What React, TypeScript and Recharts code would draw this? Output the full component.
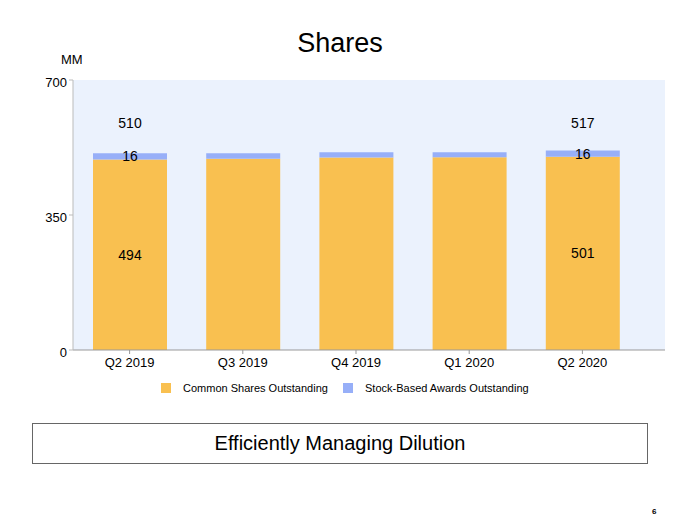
import { BarChart, Bar, XAxis, YAxis, CartesianGrid, LabelList } from "recharts";

const QUARTERS = ["Q2 2019", "Q3 2019", "Q4 2019", "Q1 2020", "Q2 2020"];
const COMMON_SHARES = [494, 496, 499, 500, 501];
const STOCK_AWARDS = [16, 14, 14, 13, 16];
const Y_TICKS = [0, 350, 700];
const LABELED = [0, 4];

const ORANGE = "#F9C050";
const BLUE = "#97AFF8";
const PLOT_BG = "#EBF2FD";
const FONT = "Liberation Sans, Arial, sans-serif";
const PLOT_TOP = 80;

const data = QUARTERS.map((q, i) => ({
  quarter: q,
  common: COMMON_SHARES[i],
  awards: STOCK_AWARDS[i],
  total: COMMON_SHARES[i] + STOCK_AWARDS[i],
}));

// only first and last quarter carry value labels
function centerLabel(props: any) {
  const { x, y, width, height, value, index } = props;
  if (!LABELED.includes(index)) return null;
  return (
    <text
      x={x + width / 2}
      y={y + height / 2}
      textAnchor="middle"
      dominantBaseline="central"
      fontSize={14}
      fontFamily={FONT}
      fill="#000"
    >
      {value}
    </text>
  );
}

// totals sit on one line near the top of the plot
function totalLabel(props: any) {
  const { x, width, value, index } = props;
  if (!LABELED.includes(index)) return null;
  return (
    <text
      x={x + width / 2}
      y={PLOT_TOP + 43}
      textAnchor="middle"
      dominantBaseline="central"
      fontSize={14}
      fontFamily={FONT}
      fill="#000"
    >
      {value}
    </text>
  );
}

const legendItems = [
  { name: "Common Shares Outstanding", color: ORANGE, left: 161 },
  { name: "Stock-Based Awards Outstanding", color: BLUE, left: 343 },
];

export default function App() {
  return (
    <div
      style={{
        position: "absolute",
        top: 0,
        left: 0,
        width: 680,
        height: 519,
        background: "#fff",
        fontFamily: FONT,
        overflow: "hidden",
      }}
    >
      <div
        style={{
          position: "absolute",
          top: 26,
          left: 0,
          width: 680,
          textAlign: "center",
          fontSize: 27,
          lineHeight: "34px",
        }}
      >
        Shares
      </div>
      <div style={{ position: "absolute", top: 52, left: 61, fontSize: 13 }}>MM</div>

      <div style={{ position: "absolute", top: 0, left: 0 }}>
        <BarChart
          width={680}
          height={420}
          data={data}
          margin={{ top: PLOT_TOP, right: 15, left: 13, bottom: 40 }}
        >
          <CartesianGrid fill={PLOT_BG} stroke="none" horizontal={false} vertical={false} />
          <XAxis
            dataKey="quarter"
            height={30}
            padding={{ left: 0, right: 26 }}
            axisLine={{ stroke: "#999" }}
            tickLine={{ stroke: "#999" }}
            tickSize={4}
            tick={{ fill: "#000", fontSize: 13, fontFamily: FONT, dy: 2 }}
            interval={0}
          />
          <YAxis
            width={60}
            domain={[0, 700]}
            ticks={Y_TICKS}
            axisLine={{ stroke: "#bbb" }}
            tickLine={{ stroke: "#bbb" }}
            tickSize={4}
            tick={{ fill: "#000", fontSize: 13, fontFamily: FONT, dy: 2 }}
          />
          <Bar dataKey="common" stackId="s" fill={ORANGE} barSize={74} isAnimationActive={false}>
            <LabelList dataKey="common" content={centerLabel} />
          </Bar>
          <Bar dataKey="awards" stackId="s" fill={BLUE} barSize={74} isAnimationActive={false}>
            <LabelList dataKey="awards" content={centerLabel} />
            <LabelList dataKey="total" content={totalLabel} />
          </Bar>
        </BarChart>
      </div>

      {legendItems.map((it) => (
        <div
          key={it.name}
          style={{
            position: "absolute",
            top: 382,
            left: it.left,
            height: 12,
            display: "flex",
            alignItems: "center",
            fontSize: 11,
            whiteSpace: "nowrap",
          }}
        >
          <span style={{ width: 10, height: 10, background: it.color, marginRight: 12, display: "inline-block" }} />
          <span>{it.name}</span>
        </div>
      ))}

      <div
        style={{
          position: "absolute",
          top: 423,
          left: 32,
          width: 614,
          height: 39,
          border: "1px solid #666",
          display: "flex",
          alignItems: "center",
          justifyContent: "center",
          fontSize: 20,
        }}
      >
        Efficiently Managing Dilution
      </div>
      <div style={{ position: "absolute", top: 507, left: 652, fontSize: 8, fontWeight: "bold" }}>6</div>
    </div>
  );
}
